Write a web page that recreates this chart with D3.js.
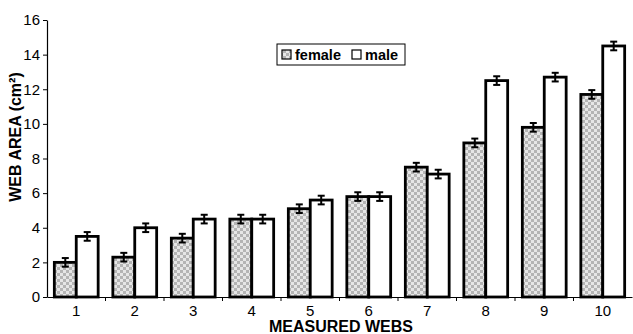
<!DOCTYPE html>
<html><head><meta charset="utf-8">
<script src="https://cdn.jsdelivr.net/npm/d3@7"></script>
<style>body{margin:0;background:#fff}svg{display:block}text{font-family:"Liberation Sans",Arial,sans-serif}</style>
</head><body><svg id="c" width="633" height="334"></svg>
<script>
const categories = ["1","2","3","4","5","6","7","8","9","10"];
const female = [2.0,2.3,3.4,4.5,5.1,5.8,7.5,8.9,9.8,11.7];
const male   = [3.5,4.0,4.5,4.5,5.6,5.8,7.1,12.5,12.7,14.5];
const femaleErr = [0.25,0.25,0.25,0.25,0.25,0.25,0.25,0.25,0.25,0.25];
const maleErr   = [0.25,0.25,0.25,0.25,0.25,0.25,0.25,0.25,0.25,0.25];
const yTicks = [0,2,4,6,8,10,12,14,16];
const seriesNames = ["female","male"];

const svg = d3.select("#c");
const m = {l:47, r:1, t:20, b:37};
const W = 633, H = 334;
const x = d3.scaleBand().domain(categories).range([m.l, W - m.r]).paddingInner(0).paddingOuter(0);
const y = d3.scaleLinear().domain([0,16]).range([H - m.b, m.t]);
const xs = d3.scaleBand().domain(seriesNames).range([0, x.bandwidth()]).paddingInner(0).paddingOuter(0.335);

const defs = svg.append("defs");
const pat = defs.append("pattern").attr("id","chk").attr("width",6).attr("height",6).attr("patternUnits","userSpaceOnUse");
pat.append("rect").attr("width",6).attr("height",6).attr("fill","#e6e6e6");
pat.append("rect").attr("width",3).attr("height",3).attr("fill","#b4b4b4");
pat.append("rect").attr("x",3).attr("y",3).attr("width",3).attr("height",3).attr("fill","#b4b4b4");

const data = categories.map((c,i)=>[
  {c, s:"female", v:female[i], e:femaleErr[i]},
  {c, s:"male", v:male[i], e:maleErr[i]}
]).flat();

// bars
svg.append("g").selectAll("rect").data(data).join("rect")
  .attr("x", d => x(d.c) + xs(d.s))
  .attr("y", d => y(d.v))
  .attr("width", xs.bandwidth())
  .attr("height", d => y(0) - y(d.v))
  .attr("fill", d => d.s === "female" ? "url(#chk)" : "#fff")
  .attr("stroke", "#000").attr("stroke-width", 2.8);

// error bars
const eg = svg.append("g").attr("stroke","#000").attr("stroke-width",2);
data.forEach(d => {
  const cx = x(d.c) + xs(d.s) + xs.bandwidth()/2;
  eg.append("line").attr("x1",cx).attr("x2",cx).attr("y1",y(d.v+d.e)).attr("y2",y(d.v-d.e));
  eg.append("line").attr("x1",cx-3.5).attr("x2",cx+3.5).attr("y1",y(d.v+d.e)).attr("y2",y(d.v+d.e));
  eg.append("line").attr("x1",cx-3.5).attr("x2",cx+3.5).attr("y1",y(d.v-d.e)).attr("y2",y(d.v-d.e));
});

// y axis
const ya = svg.append("g").attr("transform",`translate(${m.l},0)`)
  .call(d3.axisLeft(y).tickValues(yTicks).tickSize(4).tickSizeOuter(0).tickPadding(3));
ya.select(".domain").attr("stroke","#000").attr("stroke-width",1.2);
ya.selectAll(".tick line").attr("stroke","#000");
ya.selectAll("text").attr("font-size",15).attr("fill","#000");

// x axis
const xa = svg.append("g").attr("transform",`translate(0,${y(0)})`)
  .call(d3.axisBottom(x).tickSize(0).tickPadding(8));
xa.select(".domain").attr("stroke","#000").attr("stroke-width",1.2);
xa.selectAll("text").attr("font-size",15).attr("fill","#000");
// boundary ticks
xa.append("g").selectAll("line").data(categories.slice(1)).join("line")
  .attr("x1", d => x(d)).attr("x2", d => x(d)).attr("y1",0).attr("y2",4).attr("stroke","#000");

// axis titles
svg.append("text").attr("x", 341).attr("y", 332).attr("text-anchor","middle")
  .attr("font-size",16).attr("font-weight","bold").text("MEASURED WEBS");
svg.append("text").attr("transform",`translate(21,137) rotate(-90)`).attr("text-anchor","middle")
  .attr("font-size",16).attr("font-weight","bold")
  .text("WEB AREA (cm²)");

// legend
const lg = svg.append("g").attr("transform","translate(277,44)");
lg.append("rect").attr("width",128).attr("height",21).attr("fill","#fff").attr("stroke","#000").attr("stroke-width",1);
const items = [{n:"female", f:"url(#chk)", x:5},{n:"male", f:"#fff", x:75}];
items.forEach(it => {
  lg.append("rect").attr("x",it.x).attr("y",6).attr("width",9).attr("height",9).attr("fill",it.f).attr("stroke","#000").attr("stroke-width",1.2);
  lg.append("text").attr("x",it.x+13).attr("y",16).attr("font-size",14.5).attr("font-weight","bold").text(it.n);
});
</script></body></html>
